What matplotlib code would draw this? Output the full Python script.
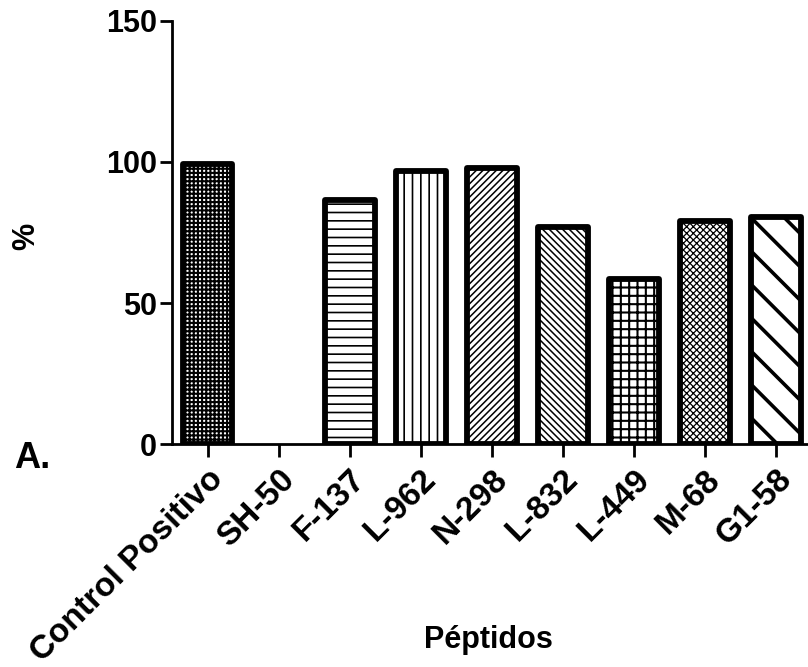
import numpy as np
import matplotlib.pyplot as plt

plt.rcParams['font.family'] = ['Liberation Sans', 'DejaVu Sans']
plt.rcParams['font.weight'] = 'bold'

peptidos = ["Control Positivo", "SH-50", "F-137", "L-962", "N-298",
            "L-832", "L-449", "M-68", "G1-58"]
porcentaje = [99.4, 0.0, 86.6, 96.7, 97.9, 76.8, 58.7, 79.0, 80.5]
tramas = ["++++", "", "--", "||", "/////", "\\\\\\\\\\", "++", "xxxxx", "\\"]
grosor_trama = [1.5, 1.0, 1.2, 1.2, 1.1, 1.1, 1.5, 0.9, 2.6]

fig = plt.figure(figsize=(8.08, 6.67), dpi=100)
ax = fig.add_axes([0.2129, 0.3339, 0.7915, 0.6351])

x = np.arange(len(peptidos))
for xi, val, h, lw in zip(x, porcentaje, tramas, grosor_trama):
    # una barra en cero no se dibuja (sin borde)
    borde = 4.2 if val > 0 else 0
    with plt.rc_context({'hatch.linewidth': lw}):
        b = ax.bar(xi, val, width=0.7, color='white', edgecolor='black',
                   linewidth=borde, hatch=h, joinstyle='round', zorder=2)
    for p in b:
        if hasattr(p, 'set_hatch_linewidth'):
            p.set_hatch_linewidth(lw)

ax.set_xlim(-0.5, 8.5)
ax.set_ylim(0, 150)
ax.set_yticks([0, 50, 100, 150])
ax.set_xticks(x)
ax.set_xticklabels(peptidos, rotation=45, ha='right', rotation_mode='anchor')

for s in ['top', 'right']:
    ax.spines[s].set_visible(False)
for s in ['left', 'bottom']:
    ax.spines[s].set_linewidth(2.0)
    ax.spines[s].set_capstyle('projecting')

ax.tick_params(axis='both', length=9, width=2.0, labelsize=22, pad=2)
ax.tick_params(axis='x', pad=5, labelsize=24)
for lab in ax.get_xticklabels() + ax.get_yticklabels():
    lab.set_fontweight('bold')

ax.set_ylabel("%", fontsize=22, fontweight='bold')
ax.yaxis.set_label_coords(-0.205, 0.49)
fig.text(0.604, 0.04, "Péptidos", fontsize=22, fontweight='bold',
         ha='center', va='center')
fig.text(0.017, 0.312, "A.", fontsize=26, fontweight='bold',
         ha='left', va='center')

fig.savefig("out.png", dpi=100)
